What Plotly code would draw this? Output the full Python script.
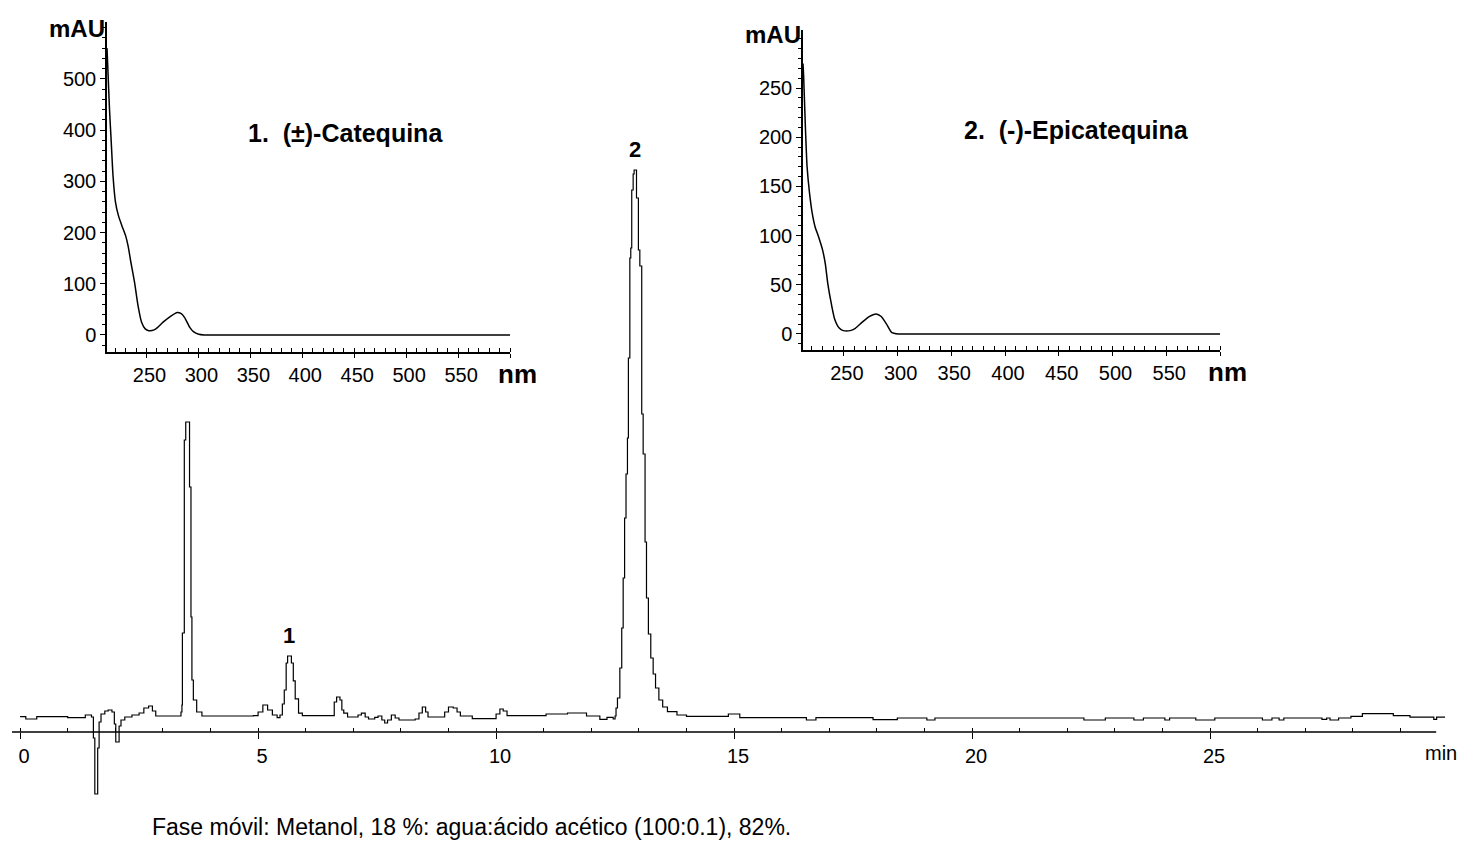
import plotly.graph_objects as go

W, H = 1464, 843
FONT = "Liberation Sans, Arial, sans-serif"

# Chromatogram: retention time (min) and detector signal (mAU), step-sampled
time_min = [
    0.00, 0.12, 0.35, 1.00, 1.37, 1.50, 1.54, 1.57, 1.60, 1.63, 1.66, 1.70, 1.78, 1.85, 1.93,
    1.98, 2.01, 2.05, 2.08, 2.12, 2.20, 2.35, 2.50, 2.60, 2.70, 2.78, 2.85, 3.30, 3.38, 3.40,
    3.41, 3.45, 3.48, 3.51, 3.56, 3.59, 3.61, 3.64, 3.71, 3.82, 4.90, 5.00, 5.10, 5.20, 5.30,
    5.40, 5.46, 5.51, 5.55, 5.59, 5.62, 5.66, 5.70, 5.74, 5.78, 5.85, 5.93, 6.55, 6.60, 6.65,
    6.72, 6.76, 6.80, 6.88, 7.10, 7.17, 7.25, 7.32, 7.45, 7.52, 7.60, 7.66, 7.72, 7.80, 7.88,
    7.96, 8.30, 8.38, 8.45, 8.52, 8.57, 8.87, 8.92, 9.00, 9.10, 9.18, 9.25, 9.50, 10.00, 10.08,
    10.15, 10.23, 10.98, 11.05, 11.50, 11.90, 12.18, 12.33, 12.46, 12.50, 12.52, 12.55, 12.60,
    12.64, 12.67, 12.70, 12.73, 12.76, 12.78, 12.81, 12.83, 12.85, 12.88, 12.90, 12.93, 12.95,
    12.99, 13.02, 13.06, 13.09, 13.13, 13.16, 13.20, 13.25, 13.30, 13.35, 13.42, 13.50, 13.60,
    13.80, 14.00, 14.88, 15.12, 16.52, 16.72, 17.92, 18.43, 19.05, 19.22, 22.35, 22.80, 23.40,
    23.60, 24.05, 24.15, 24.70, 25.10, 26.10, 26.30, 26.45, 26.55, 27.35, 27.45, 27.52, 27.70,
    27.96, 28.20, 28.85, 29.20, 29.70, 29.76, 29.94,
]
signal_mau = [
    0.7, -0.5, 0.7, 0.2, 1.5, 0.5, -10, -38, -38, -15, -2, 2, 3.5, 4, 3,
    -3, -12, -12, -4, -1, 0.5, 1.5, 2.5, 5, 6, 3.5, 1, 1, 3, 6.5,
    42.5, 139, 148, 148, 115.5, 50.5, 19, 9, 3, 1.0, 1.2, 3, 6.5, 4, 1.5,
    0.2, 1.5, 7, 14, 27.5, 31, 31, 27.5, 18.6, 9.6, 2.4, 1.2, 1.2, 8, 10.5,
    9, 4, 2.4, 0.5, 1.5, 2.4, 0.5, -0.5, 0.3, 1, -1, -2.5, -1, 1.5, 0,
    -1, -0.5, 2.5, 5.5, 3, 0.5, 0.5, 3, 5.5, 5, 3, 1, -0.3, 2, 4.5,
    3.5, 1.2, 1.2, 2.0, 2.5, 1.0, -0.7, 0.3, -0.5, 1, 5, 10, 25,
    45, 70, 100, 122, 140, 180, 230, 235, 264, 272, 274, 274, 260,
    234, 226, 152, 132, 88, 60, 42, 30, 22, 15, 9, 5.5, 3.2,
    1.5, 0.8, 2, 0.2, -1, 0.2, -0.8, 0, -1, 0, -1, 0, -1,
    0, -1, 0, -1, 0, -1, 0, -1, 0, -0.7, 0, -1, 0,
    0.8, 2.2, 1.2, 0.4, -0.7, 0.4, 0.4,
]

# UV spectrum of peak 1, (±)-catequina
wl_cat = [212, 212.7, 214.4, 216.1, 217.8, 220.2, 223, 226.4, 229.9, 232.3, 235, 238.5,
          241.9, 245.3, 248.8, 252.2, 257.4, 260.8, 266, 272.8, 279.7, 283.1, 286.6,
          291.7, 295.2, 300.3, 305.5, 320, 400, 500, 600]
abs_cat = [560, 526, 441, 376, 311, 259, 233, 213, 194, 174, 142, 103,
           57, 25, 12, 8.5, 10, 15, 25, 36, 44, 42, 34.5,
           15, 6.5, 1.3, 0, 0, 0, 0, 0]

# UV spectrum of peak 2, (-)-epicatequina
wl_epi = [212, 212.6, 214.2, 215.8, 218.1, 220.7, 223.2, 226.4, 230.3, 232.8, 235.1, 238.3,
          241.5, 245.7, 249.5, 255.9, 260.7, 267.1, 273.6, 280, 284.8, 289.6, 294.4,
          300.8, 310, 400, 500, 600]
abs_epi = [275, 262, 211, 170, 143, 122, 109, 99, 85, 71, 51, 31,
           15, 6, 3.4, 3.4, 5.8, 12, 17.7, 20.4, 17.7, 10.2, 1.7,
           0, 0, 0, 0, 0]

main_tick_step = 5
spec_tickvals = [250, 300, 350, 400, 450, 500, 550, 600]
spec_ticktext = ["250", "300", "350", "400", "450", "500", "550", ""]
cat_yticks = [0, 100, 200, 300, 400, 500]
epi_yticks = [0, 50, 100, 150, 200, 250]

peak_labels = [("1", 5.64, 31), ("2", 12.915, 274)]


def fx(p):
    return p / W


def fy(p):
    return 1 - p / H


fig = go.Figure()
fig.add_trace(go.Scatter(
    x=time_min, y=signal_mau, mode="lines", xaxis="x", yaxis="y",
    line=dict(color="black", width=1.2, shape="hv"), hoverinfo="skip", showlegend=False))
fig.add_trace(go.Scatter(
    x=wl_cat, y=abs_cat, mode="lines", xaxis="x2", yaxis="y2",
    line=dict(color="black", width=1.5, shape="spline", smoothing=0.6),
    hoverinfo="skip", showlegend=False))
fig.add_trace(go.Scatter(
    x=wl_epi, y=abs_epi, mode="lines", xaxis="x3", yaxis="y3",
    line=dict(color="black", width=1.5, shape="spline", smoothing=0.6),
    hoverinfo="skip", showlegend=False))

tick_font = dict(family=FONT, size=20, color="black")


def spec_xaxis(domain, anchor):
    return dict(
        domain=domain, anchor=anchor, range=[212, 600], showgrid=False, zeroline=False,
        showline=True, linecolor="black", linewidth=1.5, mirror=False,
        tickmode="array", tickvals=spec_tickvals, ticktext=spec_ticktext,
        ticks="outside", ticklen=4, tickwidth=1.2, tickcolor="black",
        tickfont=tick_font, ticklabelshift=3,
        minor=dict(tickmode="linear", tick0=200, dtick=10, ticks="inside",
                   ticklen=4, tickwidth=1, tickcolor="black", showgrid=False),
    )


def spec_yaxis(domain, anchor, rng, tickvals, minor_step):
    return dict(
        domain=domain, anchor=anchor, range=rng, showgrid=False, zeroline=False,
        showline=True, linecolor="black", linewidth=1.5,
        tickmode="array", tickvals=tickvals,
        ticks="outside", ticklen=5, tickwidth=1.2, tickcolor="black", tickfont=tick_font,
        minor=dict(tickmode="linear", tick0=0, dtick=minor_step, ticks="outside",
                   ticklen=3, tickwidth=1, tickcolor="black", showgrid=False),
    )


axis_y_px = 732
fig.update_layout(
    width=W, height=H, margin=dict(l=0, r=0, t=0, b=0),
    paper_bgcolor="white", plot_bgcolor="rgba(0,0,0,0)",
    font=dict(family=FONT, color="black"),
    xaxis=dict(
        domain=[fx(12), fx(1445.2)], range=[-0.17, 29.94], anchor="free", position=fy(axis_y_px),
        showline=False, showgrid=False, zeroline=False,
        tickmode="linear", tick0=0, dtick=main_tick_step,
        ticks="outside", ticklen=6, tickwidth=1.2, tickcolor="black",
        tickfont=tick_font, ticklabelshift=4,
        minor=dict(tickmode="linear", tick0=0, dtick=1, ticks="inside", ticklen=4,
                   tickwidth=1, tickcolor="black", showgrid=False),
    ),
    yaxis=dict(domain=[fy(800), fy(150)], range=[-41, 284], visible=False),
    xaxis2=spec_xaxis([fx(107), fx(510)], "y2"),
    yaxis2=spec_yaxis([fy(352), fy(22)], "x2", [-33.2, 611], cat_yticks, 20),
    xaxis3=spec_xaxis([fx(803), fx(1220)], "y3"),
    yaxis3=spec_yaxis([fy(350), fy(30)], "x3", [-16.3, 309], epi_yticks, 10),
)

# main time axis line (ends before the last recorded point)
fig.add_shape(type="line", xref="x", yref="paper", x0=-0.17, x1=29.75,
              y0=fy(axis_y_px), y1=fy(axis_y_px), line=dict(color="black", width=1.5))

annotations = [
    dict(text="<b>mAU</b>", x=fx(107), y=fy(28), xanchor="right", yanchor="middle",
         font=dict(size=24)),
    dict(text="<b>mAU</b>", x=fx(803), y=fy(35), xanchor="right", yanchor="middle",
         font=dict(size=24)),
    dict(text="<b>nm</b>", x=fx(517), y=fy(374), xanchor="center", yanchor="middle",
         font=dict(size=26)),
    dict(text="<b>nm</b>", x=fx(1227), y=fy(372), xanchor="center", yanchor="middle",
         font=dict(size=26)),
    dict(text="<b>1.\u00a0 (±)-Catequina</b>", x=fx(345), y=fy(133), xanchor="center",
         yanchor="middle", font=dict(size=25)),
    dict(text="<b>2.\u00a0 (-)-Epicatequina</b>", x=fx(1076), y=fy(130), xanchor="center",
         yanchor="middle", font=dict(size=25)),
    dict(text="min", x=fx(1441), y=fy(753), xanchor="center", yanchor="middle",
         font=dict(size=20)),
    dict(text="Fase móvil: Metanol, 18 %: agua:ácido acético (100:0.1), 82%.",
         x=fx(150), y=fy(827), xanchor="left", yanchor="middle", font=dict(size=23)),
]
for a in annotations:
    a.update(xref="paper", yref="paper", showarrow=False)

for label, t, v in peak_labels:
    annotations.append(dict(text=f"<b>{label}</b>", x=t, y=v, xref="x", yref="y",
                            xanchor="center", yanchor="bottom", yshift=6, showarrow=False,
                            font=dict(size=22)))

fig.update_layout(annotations=annotations)
fig.write_html("out.html")
